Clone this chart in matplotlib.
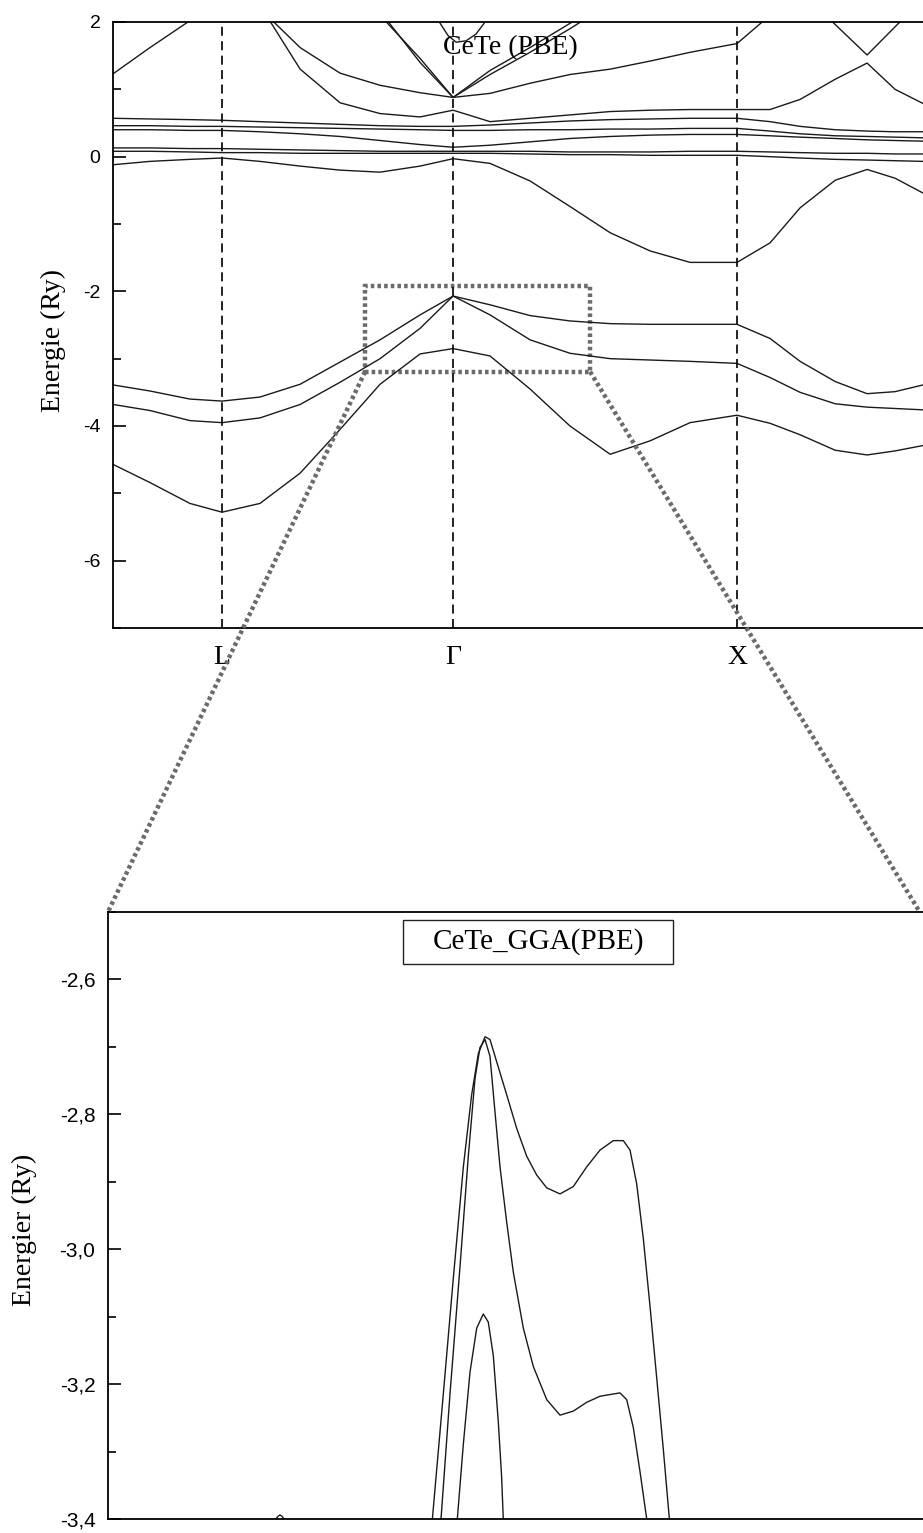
import numpy as np
import matplotlib.pyplot as plt
from matplotlib.lines import Line2D
from matplotlib.patches import Rectangle
from matplotlib.ticker import MultipleLocator

plt.rcParams['font.family'] = ['Liberation Sans', 'DejaVu Sans']
plt.rcParams['axes.unicode_minus'] = False
SERIF = ['Liberation Serif', 'DejaVu Serif']

# ---------------- band structure along the k-path ----------------
k_sym = [0.472, 1.472, 2.701]
k_labels = ['L', 'Γ', 'X']
k_max = 3.506

k = [0.000, 0.160, 0.333, 0.472, 0.636, 0.810, 0.983, 1.156, 1.329, 1.472,
     1.632, 1.805, 1.978, 2.152, 2.325, 2.498, 2.701, 2.844, 2.974, 3.126,
     3.264, 3.385, 3.506]
nan = np.nan

# Te-p like valence bands
band_v1 = [-4.57, -4.84, -5.15, -5.28, -5.15, -4.70, -4.05, -3.38, -2.93, -2.85,
           -2.96, -3.45, -4.00, -4.42, -4.22, -3.95, -3.84, -3.96, -4.13, -4.36,
           -4.43, -4.37, -4.29]
band_v2 = [-3.39, -3.48, -3.60, -3.63, -3.57, -3.38, -3.05, -2.72, -2.35, -2.07,
           -2.20, -2.36, -2.44, -2.48, -2.49, -2.49, -2.49, -2.70, -3.04, -3.34,
           -3.52, -3.49, -3.39]
band_v3 = [-3.68, -3.77, -3.92, -3.95, -3.88, -3.68, -3.35, -3.00, -2.55, -2.07,
           -2.35, -2.72, -2.92, -3.00, -3.02, -3.04, -3.07, -3.28, -3.50, -3.67,
           -3.72, -3.74, -3.76]

# band dropping from Gamma to X
band_c1 = [-0.12, -0.07, -0.04, -0.02, -0.07, -0.14, -0.20, -0.23, -0.14, -0.03,
           -0.10, -0.36, -0.74, -1.13, -1.40, -1.57, -1.57, -1.28, -0.76, -0.35,
           -0.19, -0.32, -0.54]

# flat Ce-f bands
band_f1 = [0.57, 0.56, 0.55, 0.54, 0.52, 0.50, 0.48, 0.46, 0.45, 0.45, 0.47, 0.50,
           0.53, 0.55, 0.56, 0.57, 0.57, 0.52, 0.45, 0.40, 0.38, 0.37, 0.37]
band_f2 = [0.46, 0.46, 0.45, 0.45, 0.44, 0.43, 0.42, 0.41, 0.40, 0.39, 0.39, 0.40,
           0.40, 0.41, 0.41, 0.42, 0.42, 0.38, 0.34, 0.31, 0.30, 0.29, 0.28]
band_f3 = [0.40, 0.40, 0.39, 0.39, 0.37, 0.34, 0.30, 0.24, 0.18, 0.14, 0.17, 0.22,
           0.27, 0.30, 0.32, 0.33, 0.33, 0.31, 0.29, 0.27, 0.25, 0.24, 0.23]
band_f4 = [0.13, 0.13, 0.12, 0.12, 0.11, 0.10, 0.09, 0.08, 0.08, 0.08, 0.08, 0.08,
           0.07, 0.07, 0.07, 0.08, 0.08, 0.07, 0.06, 0.05, 0.05, 0.04, 0.04]
band_f5 = [0.08, 0.08, 0.07, 0.06, 0.06, 0.05, 0.05, 0.05, 0.05, 0.05, 0.05, 0.04,
           0.03, 0.03, 0.02, 0.02, 0.02, 0.00, -0.02, -0.04, -0.05, -0.06, -0.07]

# conduction bands
band_c2 = [nan, nan, nan, nan, 2.25, 1.30, 0.80, 0.64, 0.59, 0.69, 0.52, 0.57,
           0.62, 0.67, 0.69, 0.70, 0.70, 0.70, 0.85, 1.15, 1.39, 1.00, 0.79]
band_c3 = [nan, nan, nan, nan, 2.20, 1.62, 1.24, 1.06, 0.95, 0.88, 0.94, 1.09,
           1.22, 1.30, 1.42, 1.55, 1.68, 2.10, nan, nan, nan, nan, nan]
band_c4 = [nan, nan, nan, nan, nan, nan, nan, 2.16, 1.40, 0.88, 1.28, 1.62,
           1.98, 2.35, nan, nan, nan, nan, nan, nan, nan, nan, nan]
band_c5 = [nan, nan, nan, nan, nan, nan, nan, 2.10, 1.46, 0.88, 1.22, 1.55,
           1.90, 2.28, nan, nan, nan, nan, nan, nan, nan, nan, nan]
band_c6 = [1.23, 1.62, 2.02, nan, nan, nan, nan, nan, nan, nan, nan, nan,
           nan, nan, nan, nan, nan, nan, nan, nan, nan, nan, nan]

# short pieces near the top edge
arc_g_k = [1.416, 1.450, 1.485, 1.528, 1.571, 1.606]
arc_g_e = [1.98, 1.80, 1.70, 1.72, 1.82, 1.98]
arc_w_k = [3.084, 3.264, 3.429]
arc_w_e = [2.10, 1.51, 2.08]

# zoomed window drawn on the upper panel
zoom_k = (1.091, 2.065)
zoom_e = (-3.194, -1.925)

# ---------------- enlarged view ----------------
z1_x = [0.398, 0.4114, 0.4237, 0.436, 0.4462, 0.4544, 0.4626, 0.4687, 0.4769,
        0.4892, 0.5015, 0.5137, 0.526, 0.5383, 0.5546, 0.571, 0.5873, 0.6037,
        0.620, 0.6323, 0.6405, 0.6487, 0.6569, 0.665, 0.6732, 0.6814, 0.6888]
z1_e = [-3.400, -3.215, -3.043, -2.878, -2.771, -2.710, -2.685, -2.689, -2.722,
        -2.771, -2.821, -2.862, -2.890, -2.909, -2.918, -2.907, -2.878, -2.853,
        -2.839, -2.839, -2.853, -2.903, -2.985, -3.084, -3.190, -3.297, -3.400]
z2_x = [0.4086, 0.4196, 0.4319, 0.4421, 0.4503, 0.4564, 0.4626, 0.4687, 0.4748,
        0.481, 0.4892, 0.4973, 0.5096, 0.5219, 0.5383, 0.5546, 0.571, 0.5873,
        0.6037, 0.6282, 0.6364, 0.6445, 0.6528, 0.661]
z2_e = [-3.400, -3.215, -3.026, -2.862, -2.747, -2.701, -2.689, -2.714, -2.796,
        -2.878, -2.960, -3.034, -3.117, -3.174, -3.223, -3.246, -3.240, -3.227,
        -3.218, -3.213, -3.223, -3.264, -3.330, -3.400]
z3_x = [0.4286, 0.436, 0.4442, 0.4524, 0.4605, 0.4666, 0.4728, 0.4789, 0.483, 0.485]
z3_e = [-3.400, -3.289, -3.182, -3.117, -3.096, -3.108, -3.158, -3.256, -3.338, -3.400]
z4_x = [0.2061, 0.2086, 0.2110, 0.2135, 0.2160]
z4_e = [-3.400, -3.396, -3.394, -3.396, -3.400]

z_ticks = [-2.6, -2.8, -3.0, -3.2, -3.4]
z_ticklabels = ['-2,6', '-2,8', '-3,0', '-3,2', '-3,4']

W, H = 923, 1533
fig = plt.figure(figsize=(W / 100, H / 100), dpi=100)
ax1 = fig.add_axes([113 / W, 1 - 628 / H, 810 / W, 606 / H])
ax2 = fig.add_axes([108 / W, 1 - 1519 / H, 815 / W, 607 / H])

line_kw = dict(color='#1a1a1a', lw=1.0)

# upper panel
for b in [band_v1, band_v2, band_v3, band_c1, band_f1, band_f2, band_f3,
          band_f4, band_f5, band_c2, band_c3, band_c4, band_c5, band_c6]:
    ax1.plot(k, b, **line_kw)
ax1.plot(arc_g_k, arc_g_e, **line_kw)
ax1.plot(arc_w_k, arc_w_e, **line_kw)
for ks in k_sym:
    ax1.axvline(ks, color='#111111', lw=1.3, ls=(0, (5, 3)))

ax1.set_xlim(0, k_max)
ax1.set_ylim(-7, 2)
ax1.set_xticks(k_sym)
ax1.set_xticklabels(k_labels, fontfamily=SERIF, fontsize=20)
ax1.tick_params(axis='x', length=0, pad=12)
ax1.yaxis.set_major_locator(MultipleLocator(2))
ax1.yaxis.set_minor_locator(MultipleLocator(1))
ax1.tick_params(axis='y', which='major', direction='in', length=9, width=1.2,
                labelsize=14, pad=9)
ax1.tick_params(axis='y', which='minor', direction='in', length=6, width=1.2)
ax1.set_ylabel('Energie (Ry)', fontfamily=SERIF, fontsize=20)
ax1.yaxis.set_label_coords(-0.058, 0.474)
ax1.text(0.491, 0.957, 'CeTe (PBE)', transform=ax1.transAxes, ha='center',
         va='center', fontfamily=SERIF, fontsize=20)

# lower panel
for xs, es in [(z1_x, z1_e), (z2_x, z2_e), (z3_x, z3_e), (z4_x, z4_e)]:
    ax2.plot(xs, es, **line_kw)
ax2.set_xlim(0, 1)
ax2.set_ylim(-3.4, -2.5)
ax2.set_xticks([])
ax2.set_yticks(z_ticks)
ax2.set_yticklabels(z_ticklabels)
ax2.yaxis.set_minor_locator(MultipleLocator(0.1))
ax2.tick_params(axis='y', which='major', direction='in', length=9, width=1.2,
                labelsize=15, pad=9)
ax2.tick_params(axis='y', which='minor', direction='in', length=6, width=1.2)
ax2.set_ylabel('Energier (Ry)', fontfamily=SERIF, fontsize=20)
ax2.yaxis.set_label_coords(-0.087, 0.476)

# framed caption
ax2.add_patch(Rectangle((0.362, 0.914), 0.331, 0.073, transform=ax2.transAxes,
                        fill=True, fc='white', ec='#222222', lw=1.0))
ax2.text(0.528, 0.951, 'CeTe_GGA(PBE)', transform=ax2.transAxes, ha='center',
         va='center', fontfamily=SERIF, fontsize=21)

for ax in (ax1, ax2):
    ax.spines['right'].set_visible(False)
    for s in ('left', 'top', 'bottom'):
        ax.spines[s].set_linewidth(1.3)

# dotted zoom frame and guide lines down to the enlarged panel
dot_kw = dict(color='#6b6b6b', lw=3.2, ls=(0, (0.8, 0.7)))
ax1.add_patch(Rectangle((zoom_k[0], zoom_e[0]), zoom_k[1] - zoom_k[0],
                        zoom_e[1] - zoom_e[0], fill=False, **dot_kw))
to_fig = fig.transFigure.inverted()
for xa, xb in [(zoom_k[0], 0.0), (zoom_k[1], 0.996)]:
    pa = to_fig.transform(ax1.transData.transform((xa, zoom_e[0])))
    pb = to_fig.transform(ax2.transAxes.transform((xb, 1.0)))
    fig.add_artist(Line2D([pa[0], pb[0]], [pa[1], pb[1]],
                          transform=fig.transFigure, **dot_kw))

fig.savefig('out.png', dpi=100)
